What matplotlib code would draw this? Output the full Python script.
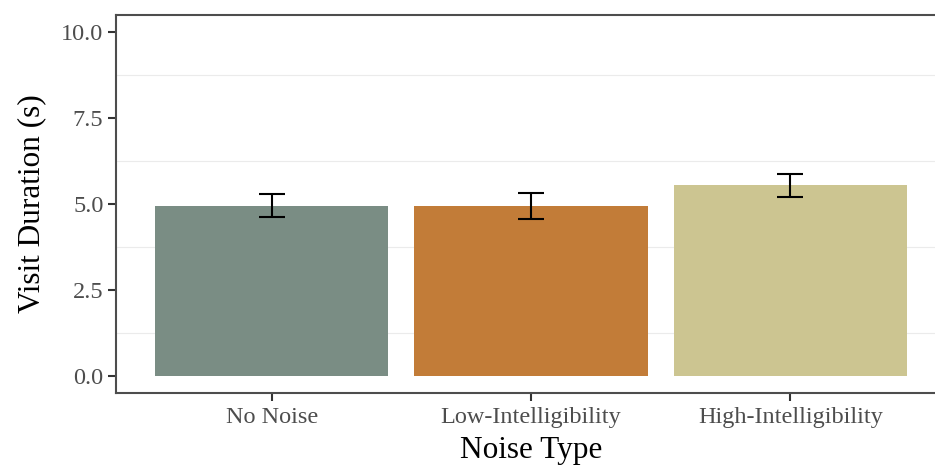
import matplotlib.pyplot as plt
import numpy as np

noise_types = ["No Noise", "Low-Intelligibility", "High-Intelligibility"]
mean_duration = [4.94, 4.93, 5.54]
err_low = [4.61, 4.55, 5.20]
err_high = [5.28, 5.31, 5.88]
bar_colors = ["#7A8D84", "#C27C38", "#CCC591"]

plt.rcParams['font.family'] = ['Liberation Serif', 'DejaVu Serif']

fig = plt.figure(figsize=(9.35, 4.68), dpi=100)
ax = fig.add_axes([116 / 935, 75 / 468, 830 / 935, 378 / 468])

x = np.arange(1, len(noise_types) + 1)
ax.bar(x, mean_duration, width=0.9, color=bar_colors, zorder=2)
yerr = [np.array(mean_duration) - np.array(err_low), np.array(err_high) - np.array(mean_duration)]
ax.errorbar(x, mean_duration, yerr=yerr, fmt="none", ecolor="black",
            elinewidth=1.5, capsize=9.4, capthick=1.5, zorder=3)

ax.set_xlim(0.4, 3.6)
ax.set_ylim(-0.5, 10.5)
ax.set_yticks([0, 2.5, 5, 7.5, 10])
ax.set_yticklabels(["0.0", "2.5", "5.0", "7.5", "10.0"])
ax.set_yticks([1.25, 3.75, 6.25, 8.75], minor=True)
ax.set_xticks(x)
ax.set_xticklabels(noise_types)
ax.grid(which="minor", axis="y", color="#EBEBEB", linewidth=0.8, zorder=0)
ax.tick_params(axis="y", which="minor", length=0)
ax.tick_params(which="major", length=6, width=1.5, color="#333333",
               labelsize=17.5, labelcolor="#4D4D4D", pad=3)
ax.tick_params(axis="x", pad=4)

for side in ["left", "bottom", "top"]:
    ax.spines[side].set_color("#4D4D4D")
    ax.spines[side].set_linewidth(1.5)
ax.spines["right"].set_visible(False)

ax.set_ylabel("Visit Duration (s)", fontsize=22.5, labelpad=11)
ax.set_xlabel("Noise Type", fontsize=22.5, labelpad=6)

fig.savefig("out.png", dpi=100)
